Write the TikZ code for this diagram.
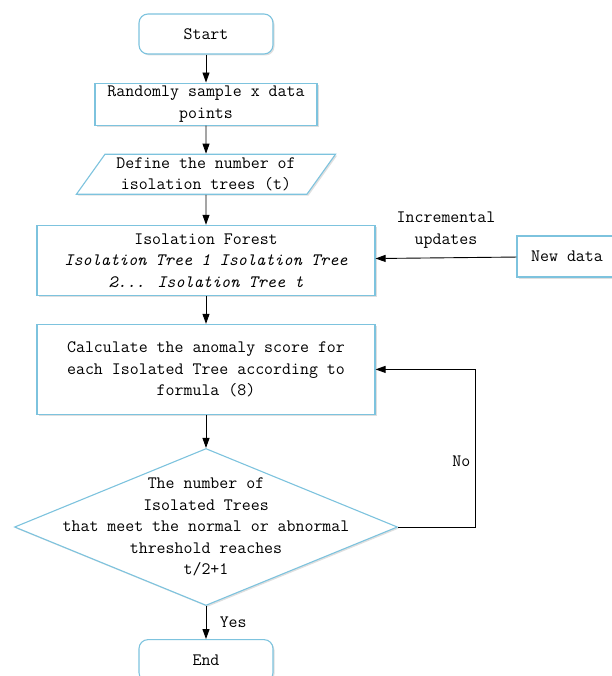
\documentclass[tikz,border=0pt]{standalone}
\usepackage{fontspec}
\usepackage{tikz}
\usetikzlibrary{arrows.meta,positioning,shapes.geometric,shadows}
\definecolor{boxblue}{RGB}{125,195,222}

\begin{document}
\begin{tikzpicture}[x=1pt,y=-1pt,node distance=28pt,
    every node/.style={font=\ttfamily\fontsize{17.4}{21.5}\selectfont},
    flowbox/.style={draw=boxblue, line width=1.1pt, fill=white, align=center, inner sep=0pt,
        drop shadow={shadow xshift=1.5pt, shadow yshift=-1.5pt, opacity=0.25}},
    flowarrow/.style={-{Triangle[length=10pt,width=7pt]}, line width=0.9pt}]
            \useasboundingbox (0,0) rectangle (611,676);

            % Start
            \node[flowbox, rectangle, rounded corners=9pt, minimum width=134pt, minimum height=40pt] (start) at (206,34) {Start};

            % Sampling
            \node[flowbox, rectangle, minimum width=222pt, minimum height=42pt, below=of start] (sample) {Randomly sample x data\\points};

            % Number of trees
            \node[flowbox, trapezium, trapezium left angle=53, trapezium right angle=127, trapezium stretches=true,
                minimum width=260pt, minimum height=40pt, below=of sample] (trees) {Define the number of\\isolation trees (t)};

            % Isolation Forest
            \node[flowbox, rectangle, minimum width=338pt, minimum height=70pt, below=30pt of trees] (forest)
                {Isolation Forest\\\textit{Isolation Tree 1 Isolation Tree}\\\textit{2... Isolation Tree t}};

            % Anomaly score
            \node[flowbox, rectangle, minimum width=338pt, minimum height=90pt, below=of forest] (score)
                {Calculate the anomaly score for\\each Isolated Tree according to\\formula (8)};

            % Decision
            \node[flowbox, diamond, minimum width=383pt, minimum height=157pt, below=33pt of score] (check) {};
            \node[align=center, inner sep=0pt] (checktext) at (check.center)
                {The number of\\Isolated Trees\\that meet the normal or abnormal\\threshold reaches\\t/2+1};

            % End
            \node[flowbox, rectangle, rounded corners=9pt, minimum width=134pt, minimum height=42pt, below=33pt of check] (finish) {End};

            % New data
            \node[flowbox, rectangle, minimum width=100pt, minimum height=41pt] (newdata) at (567,256.5) {New data};
            \coordinate (loop) at ([xshift=77pt]check.east);

            % Arrows
            \draw[flowarrow] (start) -- (sample);
            \draw[flowarrow] (sample) -- (trees);
            \draw[flowarrow] (trees) -- (forest);
            \draw[flowarrow] (forest) -- (score);
            \draw[flowarrow] (score) -- (check);
            \draw[flowarrow] (check) -- (finish) node[midway, right=10pt] {Yes};
            \draw[flowarrow] (newdata) -- (forest) node[midway, above=6pt, align=center] {Incremental\\updates};
            \draw[flowarrow] (check.east) -- (loop) |- (score.east) node[pos=0.21, left=1pt] {No};
        \end{tikzpicture}
\end{document}
